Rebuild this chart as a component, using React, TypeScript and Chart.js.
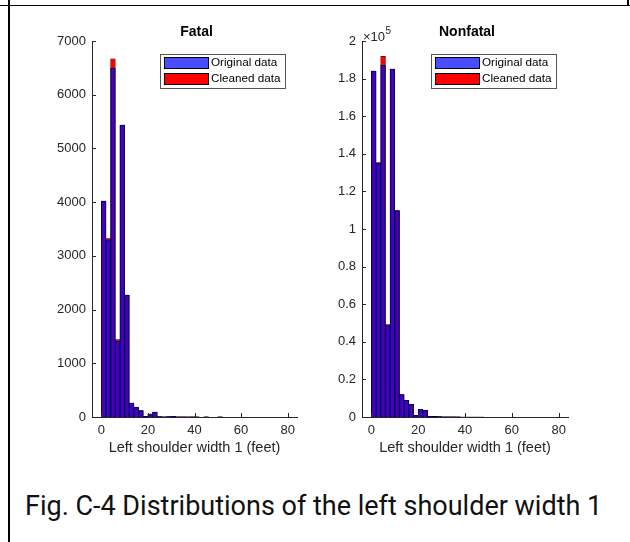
import React, { useEffect, useRef } from "react";
import { Chart, registerables } from "chart.js";
Chart.register(...registerables);

// Bin centres (feet), bin width 2
const binCenters = [1, 3, 5, 7, 9, 11, 13, 15, 17, 19, 21, 23, 25, 27, 29, 31, 33, 35, 37, 39, 41, 43, 45, 47, 49, 51, 53, 55, 57, 59, 61, 63, 65, 67, 69, 71, 73, 75, 77, 79, 81, 83];

const fatalOriginal = [4020, 3300, 6494, 1410, 5436, 2270, 260, 180, 118, 13, 56, 93, 6, 4, 10, 14, 4, 2, 1, 2, 1, 0, 1, 0, 0, 1, 0, 0, 0, 0, 0, 0, 0, 0, 0, 0, 0, 0, 0, 0, 0, 0];
const fatalCleaned = [4020, 3320, 6668, 1440, 5436, 2270, 260, 180, 118, 13, 56, 93, 6, 4, 10, 14, 4, 2, 1, 2, 1, 0, 1, 0, 0, 1, 0, 0, 0, 0, 0, 0, 0, 0, 0, 0, 0, 0, 0, 0, 0, 0];

const nonfatalOriginal = [184000, 134800, 187100, 48600, 185100, 109800, 11900, 8900, 6800, 900, 4100, 3600, 400, 300, 200, 150, 100, 50, 30, 20, 10, 10, 5, 5, 0, 0, 0, 0, 0, 0, 0, 0, 0, 0, 0, 0, 0, 0, 0, 0, 0, 0];
const nonfatalCleaned = [184000, 135300, 191900, 49200, 185100, 109800, 11900, 8900, 6800, 900, 4100, 3600, 400, 300, 200, 150, 100, 50, 30, 20, 10, 10, 5, 5, 0, 0, 0, 0, 0, 0, 0, 0, 0, 0, 0, 0, 0, 0, 0, 0, 0, 0];

const xTickValues = [0, 20, 40, 60, 80];
const legendLabels = ["Original data", "Cleaned data"];
const xAxisTitle = "Left shoulder width 1 (feet)";
const caption = "Fig. C-4 Distributions of the left shoulder width 1";

const FONT = "'Liberation Sans', Arial, sans-serif";
const AXIS_COLOR = "#262626";
const BLUE = "rgba(0,0,255,0.7)";
const RED = "rgb(255,0,0)";

type PanelProps = {
  left: number;
  title: string;
  original: number[];
  cleaned: number[];
  yMax: number;
  yStep: number;
  yWidth: number;
  rightPad: number;
  exponent?: string;
  scaleDiv: number;
};

function Panel(p: PanelProps) {
  const ref = useRef<HTMLCanvasElement | null>(null);
  useEffect(() => {
    if (!ref.current) return;
    const overlay = {
      id: "matlabOverlay",
      afterDraw(chart: any) {
        const ctx = chart.ctx as CanvasRenderingContext2D;
        const a = chart.chartArea;
        const xs = chart.scales.x;
        const ys = chart.scales.y;
        ctx.save();
        // inward ticks
        ctx.strokeStyle = AXIS_COLOR;
        ctx.lineWidth = 1;
        ctx.beginPath();
        ys.ticks.forEach((t: any) => {
          const y = Math.round(ys.getPixelForValue(t.value)) + 0.5;
          ctx.moveTo(a.left, y);
          ctx.lineTo(a.left + 4, y);
        });
        xs.ticks.forEach((t: any) => {
          const x = Math.round(xs.getPixelForValue(t.value)) + 0.5;
          ctx.moveTo(x, a.bottom);
          ctx.lineTo(x, a.bottom - 4);
        });
        ctx.stroke();

        // title
        ctx.fillStyle = "#000";
        ctx.font = `bold 14px ${FONT}`;
        ctx.textAlign = "center";
        ctx.textBaseline = "middle";
        ctx.fillText(p.title, (a.left + a.right) / 2 + 2, 32);

        // x axis title
        ctx.fillStyle = AXIS_COLOR;
        ctx.font = `14.5px ${FONT}`;
        ctx.fillText(xAxisTitle, (a.left + a.right) / 2, a.bottom + 31);

        // exponent
        if (p.exponent) {
          ctx.textAlign = "left";
          ctx.textBaseline = "alphabetic";
          ctx.font = `13px ${FONT}`;
          ctx.fillText("\u00d710", a.left + 1, a.top);
          const w = ctx.measureText("\u00d710").width;
          ctx.font = `10px ${FONT}`;
          ctx.fillText(p.exponent, a.left + 1 + w + 0.5, a.top - 7);
        }

        // legend
        const bw = 125, bh = 34;
        const bx = a.right - 12 - bw;
        const by = a.top + 13;
        ctx.fillStyle = "#fff";
        ctx.fillRect(bx, by, bw, bh);
        ctx.strokeStyle = "#555";
        ctx.lineWidth = 1;
        ctx.strokeRect(bx + 0.5, by + 0.5, bw, bh);
        const colors = [BLUE, RED];
        legendLabels.forEach((lab, i) => {
          const sy = by + 3 + i * 16;
          ctx.fillStyle = colors[i];
          ctx.fillRect(bx + 4, sy, 44, 11);
          ctx.strokeStyle = "#000";
          ctx.lineWidth = 1;
          ctx.strokeRect(bx + 4.5, sy + 0.5, 44, 11);
          ctx.fillStyle = "#000";
          ctx.font = `11.7px ${FONT}`;
          ctx.textAlign = "left";
          ctx.textBaseline = "middle";
          ctx.fillText(lab, bx + 51, sy + 6);
        });
        ctx.restore();
      },
    };

    const mk = (vals: number[]) => binCenters.map((x, i) => ({ x, y: vals[i] }));
    const chart = new Chart(ref.current, {
      type: "bar",
      data: {
        datasets: [
          {
            label: legendLabels[0],
            data: mk(p.original) as any,
            backgroundColor: BLUE,
            borderColor: "#000",
            borderWidth: 0.5,
            grouped: false,
            barPercentage: 1,
            categoryPercentage: 1,
            order: 0,
          } as any,
          {
            label: legendLabels[1],
            data: mk(p.cleaned) as any,
            backgroundColor: RED,
            borderColor: "#000",
            borderWidth: 0.5,
            grouped: false,
            barPercentage: 1,
            categoryPercentage: 1,
            order: 1,
          } as any,
        ],
      },
      options: {
        animation: false,
        responsive: false,
        maintainAspectRatio: false,
        layout: { padding: { left: 0, right: p.rightPad, top: 41, bottom: 0 } },
        plugins: {
          legend: { display: false },
          tooltip: { enabled: false },
          title: { display: false },
        },
        scales: {
          x: {
            type: "linear",
            min: -4,
            max: 84,
            offset: false,
            grid: { display: false, drawTicks: false },
            border: { display: true, color: AXIS_COLOR, width: 1 },
            ticks: {
              font: { family: FONT, size: 13 },
              color: AXIS_COLOR,
              padding: 6,
              autoSkip: false,
              maxRotation: 0,
            },
            afterBuildTicks: (s: any) => {
              s.ticks = xTickValues.map((v) => ({ value: v }));
            },
            afterFit: (s: any) => {
              s.height = 63;
            },
          } as any,
          y: {
            min: 0,
            max: p.yMax,
            grid: { display: false, drawTicks: false },
            border: { display: true, color: AXIS_COLOR, width: 1 },
            ticks: {
              stepSize: p.yStep,
              font: { family: FONT, size: 13 },
              color: AXIS_COLOR,
              padding: 6,
              callback: (v: any) => {
                const n = Number(v) / p.scaleDiv;
                return String(Math.round(n * 10) / 10);
              },
            },
            afterFit: (s: any) => {
              s.width = p.yWidth;
            },
          } as any,
        },
      },
      plugins: [overlay],
    });
    return () => chart.destroy();
  }, []);
  return (
    <canvas
      ref={ref}
      width={315}
      height={480}
      style={{ position: "absolute", left: p.left, top: 0, width: 315, height: 480 }}
    />
  );
}

export default function App() {
  return (
    <div
      style={{
        position: "fixed",
        left: 0,
        top: 0,
        width: 630,
        height: 542,
        background: "#fff",
        overflow: "hidden",
      }}
    >
      <div style={{ position: "absolute", left: 0, top: 4.5, width: 630, height: 1.5, background: "#000" }} />
      <div style={{ position: "absolute", left: 8, top: 0, width: 1.5, height: 542, background: "#000" }} />
      <div style={{ position: "absolute", left: 627, top: 0, width: 1.5, height: 6, background: "#000" }} />
      <Panel
        left={0}
        title="Fatal"
        original={fatalOriginal}
        cleaned={fatalCleaned}
        yMax={7000}
        yStep={1000}
        yWidth={92}
        rightPad={18}
        scaleDiv={1}
      />
      <Panel
        left={315}
        title="Nonfatal"
        original={nonfatalOriginal}
        cleaned={nonfatalCleaned}
        yMax={200000}
        yStep={20000}
        yWidth={47}
        rightPad={62}
        exponent="5"
        scaleDiv={100000}
      />
      <div
        style={{
          position: "absolute",
          left: 25,
          top: 490,
          fontFamily: "Roboto, sans-serif",
          fontSize: 27,
          color: "#111",
          whiteSpace: "nowrap",
          lineHeight: "32px",
        }}
      >
        {caption}
      </div>
    </div>
  );
}
